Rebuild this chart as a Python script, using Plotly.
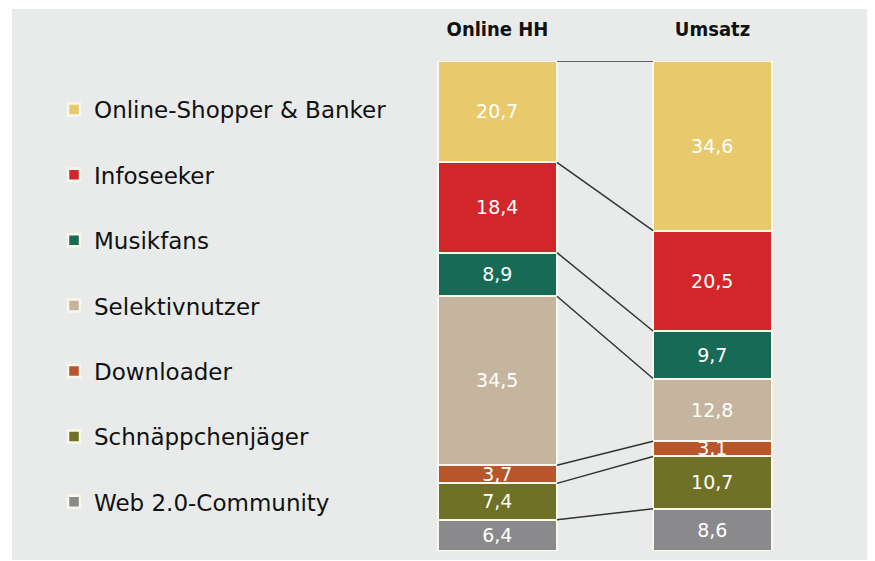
import plotly.graph_objects as go

# Data (bottom-up stacking order)
segments = ["Web 2.0-Community", "Schnäppchenjäger", "Downloader",
            "Selektivnutzer", "Musikfans", "Infoseeker", "Online-Shopper & Banker"]
online_hh = [6.4, 7.4, 3.7, 34.5, 8.9, 18.4, 20.7]
umsatz = [8.6, 10.7, 3.1, 12.8, 9.7, 20.5, 34.6]
columns = ["Online HH", "Umsatz"]
colors = ["#8a898b", "#6e7126", "#b8552a", "#c5b59e", "#176b56", "#d2262b", "#e8c96c"]

bar_x = [0, 1]
bar_w = 0.553

fig = go.Figure()

n = len(segments)
for i, (name, a, b, c) in enumerate(zip(segments, online_hh, umsatz, colors)):
    vals = [a, b]
    fig.add_trace(go.Bar(
        x=bar_x, y=vals, name=name, width=bar_w,
        marker=dict(color=c, line=dict(color="#fbf7ea", width=2.5)),
        text=[f"{v:.1f}".replace(".", ",") for v in vals],
        textposition="inside", insidetextanchor="middle",
        constraintext="none",
        textfont=dict(color="white", size=19, family="DejaVu Sans"),
        legendgroup=name, legendrank=n - i, hoverinfo="skip",
    ))

# connecting lines between segment boundaries
cum_l, cum_r = [], []
s1 = s2 = 0.0
for a, b in zip(online_hh, umsatz):
    s1 += a
    s2 += b
    cum_l.append(s1)
    cum_r.append(s2)

for yl, yr in zip(cum_l, cum_r):
    fig.add_trace(go.Scatter(
        x=[bar_x[0] + bar_w / 2, bar_x[1] - bar_w / 2], y=[yl, yr],
        mode="lines", line=dict(color="#333333", width=1.5),
        showlegend=False, hoverinfo="skip",
    ))

W, H = 875, 561
T, B = 53, 18
PH = H - T - B
px_per_unit = 215.0
x0 = -489.5 / px_per_unit
x1 = x0 + W / px_per_unit

fig.update_layout(
    width=W, height=H,
    margin=dict(l=0, r=0, t=T, b=B),
    barmode="stack",
    bargap=0,
    paper_bgcolor="white",
    plot_bgcolor="rgba(0,0,0,0)",
    showlegend=True,
    legend=dict(
        x=0.0526, y=0.945, xanchor="left", yanchor="top",
        traceorder="grouped", tracegroupgap=32.5,
        font=dict(family="DejaVu Sans", size=23, color="#111111"),
        bgcolor="rgba(0,0,0,0)",
    ),
    xaxis=dict(
        range=[x0, x1], side="top",
        tickvals=bar_x, ticktext=columns,
        tickfont=dict(family="DejaVu Sans Condensed", size=20, color="#111111", weight="bold"),
        ticks="", showgrid=False, zeroline=False, showline=False,
        ticklabelstandoff=20,
    ),
    yaxis=dict(range=[0, 100], visible=False, showgrid=False, zeroline=False),
    shapes=[dict(
        type="rect", xref="paper", yref="paper",
        x0=4 / W, x1=1.01, y0=-(552 - (H - B)) / PH, y1=(H - B - 1) / PH,
        fillcolor="#e8ebea", line=dict(width=0), layer="below",
    )],
)

fig.write_html("out.html")
